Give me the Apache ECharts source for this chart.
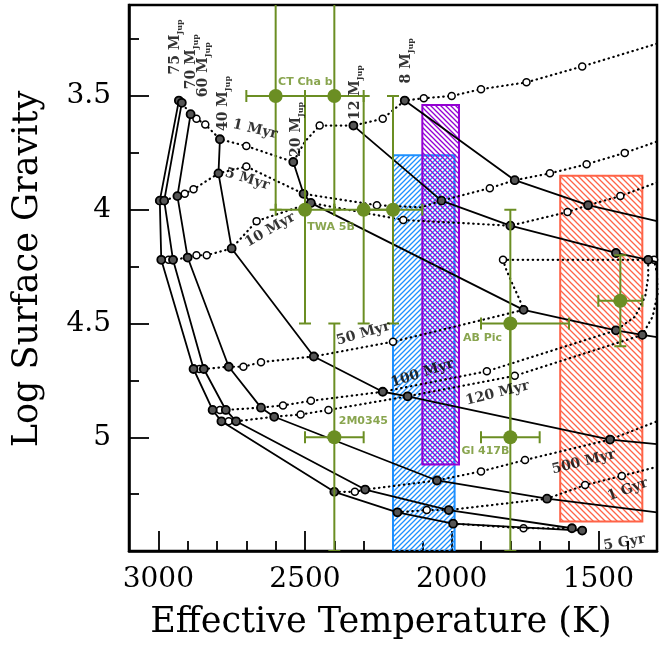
<!DOCTYPE html>
<html>
<head>
<meta charset="utf-8">
<title>Teff - log g</title>
<script src="https://cdn.jsdelivr.net/npm/echarts@6.0.0/dist/echarts.min.js"></script>
<style>
  html, body { margin: 0; padding: 0; background: #fff; }
  #chart { width: 665px; height: 645px; }
</style>
</head>
<body>
<div id="chart"></div>
<script>
// evolutionary tracks: [Teff, log g, 1 = model grid point]
const track75 = [[2930,3.52,1],[2995,3.96,1],[2990,4.22,1],[2880,4.70,1],[2815,4.88,1],[2785,4.93,1],[2400,5.24,1],[2185,5.33,1],[1995,5.38,1],[1555,5.41,1]]
const track70 = [[2920,3.53,1],[2980,3.96,1],[2950,4.22,1],[2845,4.70,1],[2770,4.88,1],[2735,4.93,1],[2295,5.23,1],[2010,5.32,1],[1590,5.40,1]]
const track60 = [[2890,3.58,1],[2935,3.94,1],[2900,4.21,1],[2760,4.69,1],[2650,4.87,1],[2605,4.91,1],[2050,5.19,1],[1675,5.27,1],[1300,5.33,0]]
const track40 = [[2790,3.69,1],[2795,3.84,1],[2750,4.17,1],[2470,4.645,1],[2235,4.80,1],[2150,4.82,1],[1460,5.01,1],[1300,5.03,0]]
const track20 = [[2540,3.79,1],[2505,3.93,1],[2480,3.97,1],[1755,4.44,1],[1440,4.53,1],[1350,4.55,1],[1300,4.56,0]]
const track12 = [[2335,3.63,1],[2035,3.96,1],[1800,4.07,1],[1440,4.19,1],[1330,4.22,1],[1300,4.23,0]]
const track8 = [[2160,3.52,1],[1785,3.87,1],[1535,3.98,1],[1300,4.05,0]]

// isochrones
const iso1Myr = [[2930,3.52,1],[2920,3.53,1],[2890,3.58,1],[2870,3.60,1],[2840,3.625,1],[2790,3.69,1],[2700,3.72,1],[2540,3.79,1],[2500,3.70,0],[2450,3.63,1],[2335,3.63,1],[2235,3.60,1],[2160,3.52,1],[2095,3.51,1],[2000,3.50,1],[1900,3.47,1],[1745,3.44,1],[1555,3.37,1],[1300,3.27,0]]
const iso5Myr = [[2995,3.96,1],[2980,3.96,1],[2935,3.94,1],[2910,3.93,1],[2880,3.91,1],[2795,3.84,1],[2700,3.81,1],[2505,3.93,1],[2255,3.98,1],[2105,3.99,0],[2035,3.96,1],[1870,3.905,1],[1785,3.87,1],[1665,3.84,1],[1540,3.80,1],[1410,3.75,1],[1300,3.70,0]]
const iso10Myr = [[2990,4.22,1],[2965,4.22,1],[2950,4.22,1],[2900,4.21,1],[2870,4.20,1],[2835,4.20,1],[2750,4.17,1],[2665,4.05,1],[2480,3.97,1],[2165,4.045,1],[1800,4.07,1],[1605,4.01,1],[1535,3.98,1],[1425,3.94,1],[1300,3.88,0]]
const iso50Myr = [[2880,4.70,1],[2860,4.70,1],[2845,4.70,1],[2760,4.69,1],[2710,4.69,1],[2650,4.67,1],[2470,4.645,1],[2200,4.58,1],[1755,4.44,1],[1770,4.39,0],[1795,4.32,0],[1815,4.26,0],[1825,4.22,1],[1630,4.22,0],[1300,4.22,0]]
const iso100Myr = [[2815,4.88,1],[2790,4.88,1],[2770,4.88,1],[2650,4.87,1],[2575,4.86,1],[2480,4.84,1],[2235,4.80,1],[1880,4.71,1],[1440,4.53,1],[1375,4.47,0],[1340,4.38,0],[1330,4.295,0],[1330,4.22,1]]
const iso120Myr = [[2785,4.93,1],[2760,4.93,1],[2735,4.93,1],[2605,4.91,1],[2515,4.90,1],[2420,4.88,1],[2150,4.82,1],[1785,4.73,1],[1350,4.55,1],[1315,4.47,0],[1298,4.37,0],[1300,4.28,0],[1310,4.22,1]]
const iso500Myr = [[2400,5.24,1],[2330,5.24,1],[2295,5.23,1],[2050,5.19,1],[1900,5.15,1],[1750,5.10,1],[1460,5.01,1],[1300,4.93,0]]
const iso1Gyr = [[2185,5.33,1],[2085,5.32,1],[2010,5.32,1],[1675,5.27,1],[1545,5.21,1],[1420,5.17,1],[1300,5.13,0]]
const iso5Gyr = [[1995,5.38,1],[1755,5.40,1],[1590,5.40,1],[1555,5.41,1]]

// observed objects
const objTeff = [2600, 2400, 2500, 2300, 2200, 2400, 1800, 1800, 1425]
const objLogg = [3.5, 3.5, 4.0, 4.0, 4.0, 5.0, 4.5, 5.0, 4.4]
const objTeffMinus = [100, 100, 100, 100, 100, 100, 200, 100, 75]
const objTeffPlus = [100, 100, 100, 100, 100, 100, 100, 100, 75]
const objLoggErr = [0.5, 0.5, 0.5, 0.5, 0.5, 0.5, 0.5, 0.5, 0.2]

// hatched regions
const boxTeffHi = [2200, 2100, 1630]
const boxTeffLo = [1990, 1975, 1350]
const boxLoggTop = [3.76, 3.54, 3.85]
const boxLoggBot = [5.52, 5.12, 5.37]

// axis ticks
const xMajor = [1500, 2000, 2500, 3000]
const xMinor = [1400, 1600, 1700, 1800, 1900, 2100, 2200, 2300, 2400, 2600, 2700, 2800, 2900, 3100]
const yMajor = [3.5, 4, 4.5, 5]
const yMinor = [3.25, 3.75, 4.25, 4.75, 5.25]

// annotations
const massText = ['75', '70', '60', '40', '20', '12', '8']
const massTeff = [2943, 2888, 2847, 2779, 2530, 2329, 2155]
const massLogg = [3.284, 3.349, 3.384, 3.533, 3.647, 3.485, 3.345]
const isoText = ['1 Myr', '5 Myr', '10 Myr', '50 Myr', '100 Myr', '120 Myr', '500 Myr', '1 Gyr', '5 Gyr']
const isoTeff = [2670, 2697, 2619, 2301, 2100, 1844, 1550, 1400, 1411]
const isoLogg = [3.647, 3.866, 4.089, 4.544, 4.719, 4.807, 5.109, 5.231, 5.463]
const isoRot = [-13, -17, 30, 16, 18, 14, 14, 20, 10]
const objText = ['CT Cha b', 'TWA 5B', '2M0345', 'AB Pic', 'Gl 417B']
const objTextTeff = [2499, 2411, 2301, 1895, 1885]
const objTextLogg = [3.437, 4.076, 4.929, 4.566, 5.060]

const green = '#6B8E23'
const boxColors = ['#1E90FF', '#9400D3', '#FF6347']
const boxDir = [1, -1, -1]
const boxGap = [5, 5, 6]
const serif = 'DejaVu Serif'

// diagonal hatch pattern drawn on a small canvas
const hatch = (color, dir, gap) => {
  const c = document.createElement('canvas')
  c.width = gap; c.height = gap
  const ctx = c.getContext('2d')
  ctx.strokeStyle = color
  ctx.lineWidth = 1.3
  ctx.beginPath()
  if (dir > 0) {
    ctx.moveTo(0, gap); ctx.lineTo(gap, 0)
    ctx.moveTo(-gap, gap); ctx.lineTo(gap, -gap)
    ctx.moveTo(0, 2 * gap); ctx.lineTo(2 * gap, 0)
  } else {
    ctx.moveTo(0, 0); ctx.lineTo(gap, gap)
    ctx.moveTo(-gap, 0); ctx.lineTo(gap, 2 * gap)
    ctx.moveTo(0, -gap); ctx.lineTo(2 * gap, gap)
  }
  ctx.stroke()
  return c
}

const tracks = [track75, track70, track60, track40, track20, track12, track8]
const isochrones = [iso1Myr, iso5Myr, iso10Myr, iso50Myr, iso100Myr, iso120Myr, iso500Myr, iso1Gyr, iso5Gyr]

const series = []

// hatched boxes
series.push({
  type: 'custom',
  silent: true,
  clip: true,
  z: 1,
  data: boxTeffHi.map((t, i) => [t, boxTeffLo[i], boxLoggTop[i], boxLoggBot[i], i]),
  encode: { x: [0, 1], y: [2, 3] },
  renderItem: (params, api) => {
    const i = api.value(4)
    const a = api.coord([api.value(0), api.value(2)])
    const b = api.coord([api.value(1), api.value(3)])
    return {
      type: 'rect',
      shape: { x: Math.min(a[0], b[0]), y: Math.min(a[1], b[1]), width: Math.abs(b[0] - a[0]), height: Math.abs(b[1] - a[1]) },
      style: {
        fill: { image: hatch(boxColors[i], boxDir[i], boxGap[i]), repeat: 'repeat' },
        stroke: boxColors[i],
        lineWidth: 2
      }
    }
  }
})

isochrones.forEach((d) => {
  series.push({
    type: 'line',
    silent: true,
    z: 2,
    data: d,
    symbol: 'circle',
    symbolSize: (v) => v[2] ? 7 : 0,
    itemStyle: { color: '#fff', borderColor: '#000', borderWidth: 1.5 },
    lineStyle: { color: '#000', width: 2.2, type: [0.5, 4.5], cap: 'round' }
  })
})

tracks.forEach((d) => {
  series.push({
    type: 'line',
    silent: true,
    z: 3,
    data: d,
    symbol: 'circle',
    symbolSize: (v) => v[2] ? 8 : 0,
    itemStyle: { color: '#555', borderColor: '#000', borderWidth: 1.8 },
    lineStyle: { color: '#000', width: 1.8 }
  })
})

// error bars
series.push({
  type: 'custom',
  silent: true,
  clip: true,
  z: 4,
  data: objTeff.map((t, i) => [t, objLogg[i], objTeffMinus[i], objTeffPlus[i], objLoggErr[i]]),
  renderItem: (params, api) => {
    const t = api.value(0), g = api.value(1)
    const c = api.coord([t, g])
    const l = api.coord([t + api.value(3), g])[0]
    const r = api.coord([t - api.value(2), g])[0]
    const top = api.coord([t, g - api.value(4)])[1]
    const bot = api.coord([t, g + api.value(4)])[1]
    const cap = 6
    const style = { stroke: green, lineWidth: 2 }
    const seg = (x1, y1, x2, y2) => ({ type: 'line', shape: { x1, y1, x2, y2 }, style })
    return {
      type: 'group',
      children: [
        seg(l, c[1], r, c[1]),
        seg(c[0], top, c[0], bot),
        seg(l, c[1] - cap, l, c[1] + cap),
        seg(r, c[1] - cap, r, c[1] + cap),
        seg(c[0] - cap, top, c[0] + cap, top),
        seg(c[0] - cap, bot, c[0] + cap, bot)
      ]
    }
  }
})

series.push({
  type: 'scatter',
  silent: true,
  z: 5,
  data: objTeff.map((t, i) => [t, objLogg[i]]),
  symbolSize: 14,
  itemStyle: { color: green, opacity: 1 }
})

// labels
const labelSeries = (names, teff, logg, rot, label) => ({
  type: 'scatter',
  silent: true,
  z: 6,
  symbolSize: 1,
  itemStyle: { color: 'transparent' },
  data: names.map((s, i) => ({ name: s, value: [teff[i], logg[i]], label: { rotate: rot ? rot[i] : 0 } })),
  label: Object.assign({ show: true, position: 'inside' }, label)
})

series.push(labelSeries(isoText, isoTeff, isoLogg, isoRot, {
  formatter: (p) => p.name, color: '#000', fontFamily: serif, fontWeight: 'bold', fontSize: 14
}))
series.push(labelSeries(massText, massTeff, massLogg, massText.map(() => 90), {
  formatter: (p) => '{m|' + p.name + ' M}{s|Jup}',
  rich: {
    m: { color: '#000', fontFamily: serif, fontWeight: 'bold', fontSize: 14, lineHeight: 18 },
    s: { color: '#000', fontFamily: serif, fontWeight: 'bold', fontSize: 8, lineHeight: 18, verticalAlign: 'bottom' }
  }
}))
series.push(labelSeries(objText, objTextTeff, objTextLogg, null, {
  formatter: (p) => p.name, color: green, fontFamily: 'DejaVu Sans', fontWeight: 'bold', fontSize: 11
}))

const chart = echarts.init(document.getElementById('chart'))
const option = {
  animation: false,
  backgroundColor: '#fff',
  grid: { left: 129, right: 8, top: 5, bottom: 92, show: true, borderColor: '#000', borderWidth: 2.5, containLabel: false },
  xAxis: [
    {
      type: 'value', min: 1300, max: 3100, inverse: true, position: 'bottom',
      name: 'Effective Temperature (K)', nameLocation: 'middle', nameGap: 54,
      nameTextStyle: { fontFamily: serif, fontSize: 35, color: '#000', padding: [0, 24, 0, 0] },
      axisLine: { lineStyle: { color: '#000', width: 2.5 } },
      axisTick: { inside: true, length: 20, customValues: xMajor, lineStyle: { color: '#000', width: 1.8 } },
      axisLabel: { customValues: xMajor, formatter: (v) => String(v), fontFamily: serif, fontSize: 28, color: '#000', margin: 15 },
      splitLine: { show: false }
    },
    {
      type: 'value', min: 1300, max: 3100, inverse: true, position: 'bottom', offset: 0,
      axisLine: { show: false },
      axisTick: { inside: true, length: 10, customValues: xMinor, lineStyle: { color: '#000', width: 1.8 } },
      axisLabel: { show: false },
      splitLine: { show: false }
    }
  ],
  yAxis: [
    {
      type: 'value', min: 3.1, max: 5.5, inverse: true, position: 'left',
      name: 'Log Surface Gravity', nameLocation: 'middle', nameGap: 84,
      nameTextStyle: { fontFamily: serif, fontSize: 35, color: '#000', padding: [0, 0, 0, 18] },
      axisLine: { lineStyle: { color: '#000', width: 2.5 } },
      axisTick: { inside: true, length: 20, customValues: yMajor, lineStyle: { color: '#000', width: 1.8 } },
      axisLabel: { customValues: yMajor, formatter: (v) => String(v), fontFamily: serif, fontSize: 28, color: '#000', margin: 18 },
      splitLine: { show: false }
    },
    {
      type: 'value', min: 3.1, max: 5.5, inverse: true, position: 'left', offset: 0,
      axisLine: { show: false },
      axisTick: { inside: true, length: 10, customValues: yMinor, lineStyle: { color: '#000', width: 1.8 } },
      axisLabel: { show: false },
      splitLine: { show: false }
    }
  ],
  series: series
}
chart.setOption(option)
</script>
</body>
</html>
